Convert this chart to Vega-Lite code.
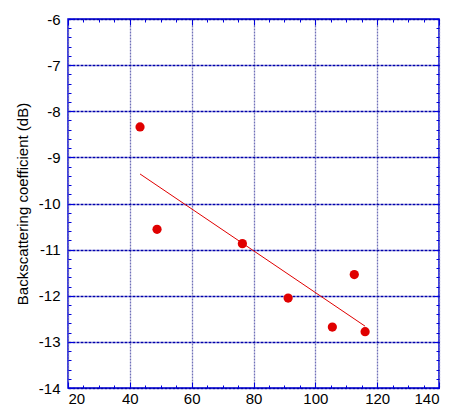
{
  "$schema": "https://vega.github.io/schema/vega-lite/v6.json",
  "width": 371,
  "height": 369,
  "autosize": "none",
  "padding": {"left": 68, "top": 19, "right": 16, "bottom": 17},
  "background": "white",
  "config": {
    "view": {"stroke": "#0000dd", "strokeWidth": 1.5},
    "axis": {"labelFont": "Liberation Sans", "titleFont": "Liberation Sans", "labelColor": "black", "titleColor": "black", "labelFontSize": 15, "titleFontSize": 15, "titleFontWeight": "normal", "domain": false, "tickColor": "#0000dd"}
  },
  "datasets": {
    "pts": [
      {"x": 43.3, "y": -8.34},
      {"x": 48.8, "y": -10.56},
      {"x": 76.4, "y": -10.87},
      {"x": 91.2, "y": -12.05},
      {"x": 105.5, "y": -12.68},
      {"x": 112.6, "y": -11.54},
      {"x": 116.1, "y": -12.78}
    ],
    "fit": [
      {"x": 43.3, "y": -9.36},
      {"x": 116.1, "y": -12.66}
    ]
  },
  "resolve": {"axis": {"x": "independent", "y": "independent"}},
  "layer": [
    {
      "data": {"name": "pts"},
      "mark": {"type": "circle", "opacity": 0},
      "encoding": {
        "x": {"field": "x", "type": "quantitative", "scale": {"domain": [20, 140], "nice": false},
          "axis": {"orient": "bottom", "title": null, "values": [20, 40, 60, 80, 100, 120, 140], "labelExpr": "'' + datum.value", "tickSize": -6, "labelPadding": 9, "grid": true, "gridColor": "#7070b8", "gridDash": [2, 1], "gridWidth": 1.3, "tickWidth": 1}},
        "y": {"field": "y", "type": "quantitative", "scale": {"domain": [-14, -6], "nice": false},
          "axis": {"orient": "left", "title": "Backscattering coefficient (dB)", "titlePadding": 8, "values": [-14, -13, -12, -11, -10, -9, -8, -7, -6], "labelExpr": "'' + datum.value", "tickSize": -6, "labelPadding": 14, "grid": true, "gridColor": "#0000aa", "gridDash": [3, 1], "gridWidth": 1.6, "tickWidth": 1}}
      }
    },
    {
      "data": {"name": "fit"},
      "mark": {"type": "line", "color": "#e00000", "strokeWidth": 1},
      "encoding": {
        "x": {"field": "x", "type": "quantitative", "scale": {"domain": [20, 140], "nice": false},
          "axis": {"orient": "top", "title": null, "values": [20, 40, 60, 80, 100, 120, 140], "labels": false, "tickSize": -6, "grid": false}},
        "y": {"field": "y", "type": "quantitative", "scale": {"domain": [-14, -6], "nice": false},
          "axis": {"orient": "right", "title": null, "values": [-14, -13, -12, -11, -10, -9, -8, -7, -6], "labels": false, "tickSize": -6, "grid": false}}
      }
    },
    {
      "data": {"name": "pts"},
      "mark": {"type": "circle", "opacity": 0},
      "encoding": {
        "x": {"field": "x", "type": "quantitative", "scale": {"domain": [20, 140], "nice": false},
          "axis": {"orient": "bottom", "title": null, "values": [25, 30, 35, 45, 50, 55, 65, 70, 75, 85, 90, 95, 105, 110, 115, 125, 130, 135], "labels": false, "tickSize": -3, "grid": false}},
        "y": {"field": "y", "type": "quantitative", "scale": {"domain": [-14, -6], "nice": false},
          "axis": {"orient": "left", "title": null, "values": [-13.8, -13.6, -13.4, -13.2, -12.8, -12.6, -12.4, -12.2, -11.8, -11.6, -11.4, -11.2, -10.8, -10.6, -10.4, -10.2, -9.8, -9.6, -9.4, -9.2, -8.8, -8.6, -8.4, -8.2, -7.8, -7.6, -7.4, -7.2, -6.8, -6.6, -6.4, -6.2], "labels": false, "tickSize": -3, "grid": false}}
      }
    },
    {
      "data": {"name": "pts"},
      "mark": {"type": "circle", "color": "#e00000", "opacity": 1, "size": 85},
      "encoding": {
        "x": {"field": "x", "type": "quantitative", "scale": {"domain": [20, 140], "nice": false},
          "axis": {"orient": "top", "title": null, "values": [25, 30, 35, 45, 50, 55, 65, 70, 75, 85, 90, 95, 105, 110, 115, 125, 130, 135], "labels": false, "tickSize": -3, "grid": false}},
        "y": {"field": "y", "type": "quantitative", "scale": {"domain": [-14, -6], "nice": false},
          "axis": {"orient": "right", "title": null, "values": [-13.8, -13.6, -13.4, -13.2, -12.8, -12.6, -12.4, -12.2, -11.8, -11.6, -11.4, -11.2, -10.8, -10.6, -10.4, -10.2, -9.8, -9.6, -9.4, -9.2, -8.8, -8.6, -8.4, -8.2, -7.8, -7.6, -7.4, -7.2, -6.8, -6.6, -6.4, -6.2], "labels": false, "tickSize": -3, "grid": false}}
      }
    }
  ]
}
